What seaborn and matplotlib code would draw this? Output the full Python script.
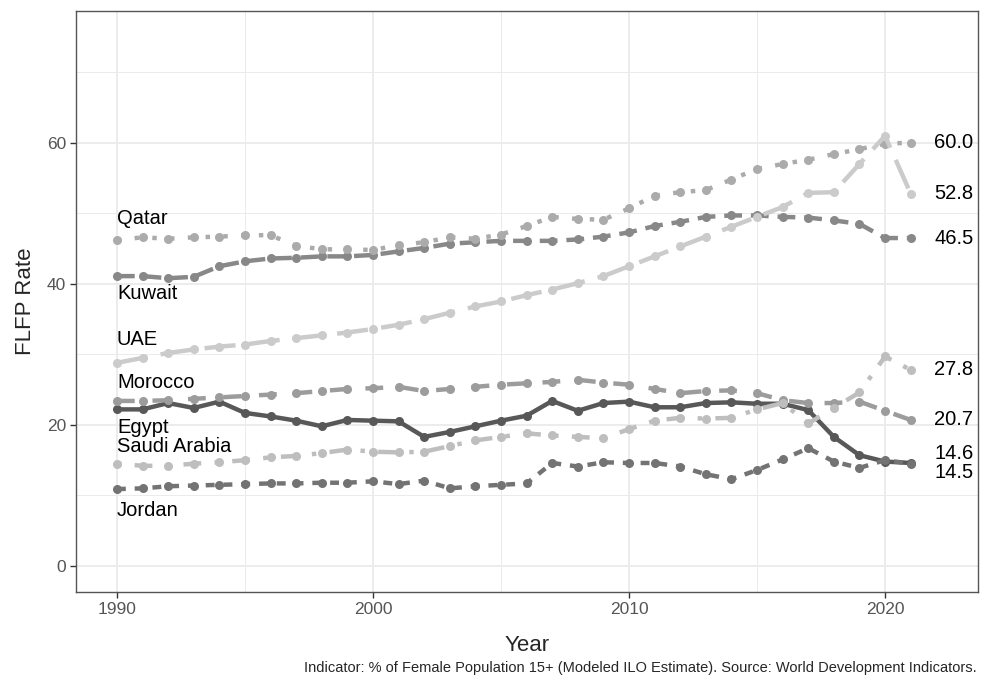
import numpy as np
import pandas as pd
import matplotlib
matplotlib.use("Agg")
import matplotlib.pyplot as plt
from matplotlib.ticker import MultipleLocator
import seaborn as sns

# FLFP rate (% of female population 15+), 1990-2021
years = list(range(1990, 2022))

egypt = [22.2, 22.2, 23.1, 22.4, 23.3, 21.7, 21.2, 20.6, 19.8, 20.7, 20.6, 20.5,
         18.3, 19.0, 19.8, 20.6, 21.3, 23.4, 22.0, 23.1, 23.3, 22.5, 22.5,
         23.1, 23.2, 23.0, 23.0, 22.1, 18.3, 15.7, 14.8, 14.6]
jordan = [10.9, 11.0, 11.3, 11.4, 11.5, 11.6, 11.7, 11.7, 11.8, 11.8, 12.0, 11.6,
          12.1, 11.0, 11.3, 11.5, 11.7, 14.6, 14.1, 14.7, 14.6, 14.6, 14.1,
          13.0, 12.3, 13.6, 15.1, 16.7, 14.8, 13.9, 15.0, 14.5]
kuwait = [41.1, 41.1, 40.8, 41.0, 42.5, 43.2, 43.6, 43.7, 43.9, 43.9, 44.1, 44.6,
          45.1, 45.7, 45.9, 46.1, 46.1, 46.1, 46.3, 46.7, 47.3, 48.2, 48.8,
          49.5, 49.7, 49.7, 49.5, 49.4, 49.0, 48.5, 46.5, 46.5]
morocco = [23.4, 23.4, 23.5, 23.7, 23.9, 24.1, 24.3, 24.5, 24.8, 25.1, 25.2, 25.4,
           24.8, 25.1, 25.4, 25.7, 25.9, 26.1, 26.4, 26.0, 25.7, 25.1, 24.5,
           24.8, 24.9, 24.5, 23.5, 23.1, 23.1, 23.3, 22.0, 20.7]
qatar = [46.2, 46.6, 46.4, 46.6, 46.7, 46.9, 46.9, 45.4, 44.9, 44.9, 44.8, 45.5,
         45.9, 46.6, 46.4, 47.0, 48.2, 49.5, 49.2, 49.1, 50.7, 52.5, 53.0,
         53.3, 54.8, 56.3, 57.0, 57.6, 58.4, 59.1, 59.9, 60.0]
saudi = [14.5, 14.2, 14.2, 14.5, 14.7, 15.0, 15.4, 15.6, 16.0, 16.5, 16.2, 16.1,
         16.2, 17.0, 17.8, 18.3, 18.8, 18.5, 18.3, 18.1, 19.4, 20.6, 21.0,
         20.9, 21.0, 22.2, 23.1, 20.2, 22.4, 24.6, 29.7, 27.8]
uae = [28.8, 29.5, 30.2, 30.7, 31.1, 31.4, 31.9, 32.3, 32.7, 33.1, 33.6, 34.2,
       35.0, 35.9, 36.8, 37.5, 38.4, 39.2, 40.1, 41.1, 42.5, 43.9, 45.3,
       46.7, 48.1, 49.5, 50.9, 52.9, 53.0, 57.0, 61.0, 52.8]

countries = ["Egypt", "Jordan", "Kuwait", "Morocco", "Qatar", "Saudi Arabia", "UAE"]
series = [egypt, jordan, kuwait, morocco, qatar, saudi, uae]

df = pd.DataFrame({
    "year": years * len(countries),
    "rate": [v for s in series for v in s],
    "country": [c for c in countries for _ in years],
})

# grey palette + ggplot-like linetypes
greys = ["#585858", "#737373", "#888888", "#9c9c9c", "#ababab", "#bebebe", "#cbcbcb"]
palette = dict(zip(countries, greys))
dashes = dict(zip(countries, ["", (2, 2), (4, 2), (4, 4), (1, 3), (1, 3, 4, 3), (7, 3)]))

sns.set_theme(style="whitegrid")
plt.rcParams["font.family"] = ["Liberation Sans", "DejaVu Sans"]

fig = plt.figure(figsize=(9.84, 6.86), dpi=100)
ax = fig.add_axes([0.0772, 0.137, 0.9167, 0.847])

sns.lineplot(data=df, x="year", y="rate", hue="country", style="country",
             palette=palette, dashes=dashes, markers=dict.fromkeys(countries, "o"),
             markersize=6.5, markeredgewidth=0, linewidth=3.2, legend=False, ax=ax)

# left labels (country names) nudged off the first point
left_nudge = {"Egypt": -2.5, "Jordan": -3.1, "Kuwait": -2.4, "Morocco": 2.6,
              "Qatar": 3.0, "Saudi Arabia": 2.5, "UAE": 3.3}
for c, s in zip(countries, series):
    ax.text(years[0], s[0] + left_nudge[c], c, ha="left", va="center",
            fontsize=14.5, color="black")

# right labels (last value)
right_nudge = {"Egypt": 1.4, "Jordan": -1.3}
for c, s in zip(countries, series):
    ax.text(years[-1] + 0.93, s[-1] + right_nudge.get(c, 0), f"{s[-1]:.1f}",
            ha="left", va="center", fontsize=14.5, color="black")

ax.set_xlim(1988.4, 2023.63)
ax.set_ylim(-3.7, 78.7)
ax.xaxis.set_major_locator(MultipleLocator(10))
ax.xaxis.set_minor_locator(MultipleLocator(5))
ax.yaxis.set_major_locator(MultipleLocator(20))
ax.yaxis.set_minor_locator(MultipleLocator(10))
ax.grid(which="major", color="#ebebeb", linewidth=1.3)
ax.grid(which="minor", color="#ebebeb", linewidth=0.7)
ax.set_axisbelow(True)
for sp in ax.spines.values():
    sp.set_color("#555555")
    sp.set_linewidth(1.0)
ax.tick_params(axis="both", which="major", length=4, width=1.0, color="#333333",
               labelsize=12.5, labelcolor="#555555", pad=3)
ax.tick_params(which="minor", length=0)
ax.tick_params(left=True, bottom=True)

ax.set_xlabel("Year", fontsize=16, labelpad=13)
ax.set_ylabel("FLFP Rate", fontsize=16, labelpad=8)

fig.text(0.993, 0.026, "Indicator: % of Female Population 15+ (Modeled ILO Estimate). "
         "Source: World Development Indicators.", ha="right", va="center",
         fontsize=10.5)

fig.savefig("out.png", dpi=100)
